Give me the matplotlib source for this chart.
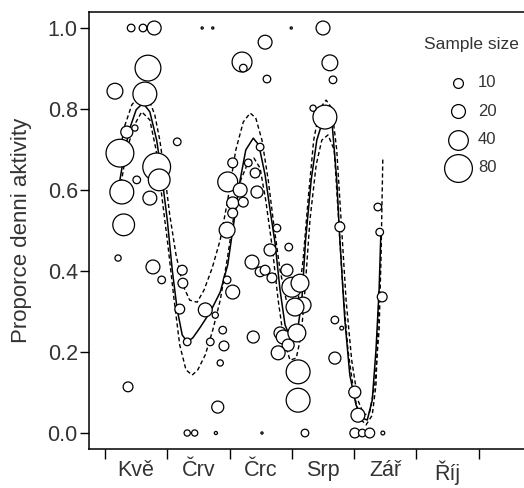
import matplotlib
matplotlib.use('Agg')
import matplotlib.pyplot as plt
from matplotlib.ticker import FixedLocator

plt.rcParams['font.family'] = ['Liberation Sans', 'DejaVu Sans']

# mesice: 5 = zacatek kvetna
mesice = ['Kvě', 'Črv', 'Črc', 'Srp', 'Zář', 'Říj']
hranice = [5, 6, 7, 8, 9, 10, 11]
stredy = [5.5, 6.5, 7.5, 8.5, 9.5, 10.5]

# pozorovani: cas (mesic), proporce denni aktivity, velikost vzorku
cas = [5.42, 5.61, 5.79, 5.69, 5.16, 5.64, 5.35, 5.48, 6.16, 5.24,
       5.83, 5.87, 5.51, 5.27, 5.72, 5.30, 5.21, 5.77, 5.91, 6.24,
       6.25, 6.20, 6.32, 5.37, 6.32, 6.44, 6.78, 7.52, 8.21, 6.81,
       6.85, 6.91, 6.69, 6.89, 6.77, 6.61, 7.05, 6.96, 7.38, 7.36,
       7.49, 7.57, 7.20, 7.22, 7.60, 7.49, 7.05, 7.30, 7.41, 6.97,
       7.17, 7.44, 7.05, 7.22, 7.05, 6.96, 7.76, 7.65, 7.95, 7.57,
       7.68, 7.92, 8.00, 8.13, 8.18, 8.05, 7.81, 7.86, 8.08, 7.94,
       7.78, 8.10, 8.10, 8.69, 8.69, 8.80, 9.01, 9.06, 9.01, 9.13,
       9.25, 9.46, 9.45, 9.41, 8.50, 8.61, 8.66, 8.53, 8.34, 9.38,
       8.77, 6.56, 6.73, 7.99]
proporce = [1.0, 1.0, 1.0, 0.901, 0.844, 0.837, 0.743, 0.753, 0.719, 0.691,
            0.657, 0.625, 0.625, 0.595, 0.580, 0.514, 0.432, 0.410, 0.378, 0.402,
            0.370, 0.306, 0.225, 0.114, 0.0, 0.0, 0.0, 0.0, 0.0, 0.064,
            0.173, 0.215, 0.225, 0.254, 0.291, 0.304, 0.348, 0.378, 0.237, 0.422,
            0.398, 0.965, 0.916, 0.901, 0.874, 0.706, 0.667, 0.667, 0.642, 0.620,
            0.600, 0.595, 0.568, 0.570, 0.543, 0.501, 0.506, 0.452, 0.459, 0.402,
            0.383, 0.402, 0.360, 0.370, 0.316, 0.311, 0.247, 0.237, 0.247, 0.217,
            0.198, 0.151, 0.081, 0.185, 0.279, 0.259, 0.101, 0.044, 0.0, 0.0,
            0.0, 0.0, 0.336, 0.496, 1.0, 0.914, 0.872, 0.780, 0.802, 0.558,
            0.509, 1.0, 1.0, 1.0]
vzorek = [6, 6, 20, 69, 26, 59, 15, 4, 6, 80,
          80, 49, 6, 59, 20, 49, 4, 20, 6, 10,
          10, 10, 6, 10, 4, 4, 1, 0.5, 6, 15,
          4, 10, 6, 6, 4, 20, 20, 6, 15, 20,
          10, 20, 41, 6, 6, 6, 10, 6, 10, 41,
          20, 15, 15, 10, 10, 26, 6, 15, 6, 10,
          10, 15, 41, 33, 26, 33, 15, 20, 33, 15,
          20, 59, 59, 15, 6, 1.5, 15, 20, 10, 6,
          10, 1.5, 10, 6, 20, 26, 6, 59, 4, 6,
          10, 0.5, 0.5, 0.5]

# vyrovnany model a konfidencni pas
fit_x = [5.24, 5.32, 5.40, 5.50, 5.61, 5.72, 5.83, 5.91, 6.00, 6.08,
         6.16, 6.24, 6.32, 6.41, 6.52, 6.69, 6.85, 6.97, 7.05, 7.17,
         7.26, 7.38, 7.47, 7.57, 7.65, 7.73, 7.81, 7.89, 7.99, 8.08,
         8.16, 8.22, 8.31, 8.40, 8.49, 8.58, 8.65, 8.72, 8.77, 8.85,
         8.93, 9.03, 9.13, 9.21, 9.29, 9.35, 9.40, 9.43]
fit_y = [0.625, 0.699, 0.753, 0.798, 0.815, 0.793, 0.723, 0.637, 0.526, 0.402,
         0.304, 0.242, 0.225, 0.235, 0.259, 0.299, 0.348, 0.415, 0.501, 0.625,
         0.699, 0.728, 0.711, 0.637, 0.551, 0.469, 0.353, 0.267, 0.230, 0.242,
         0.328, 0.477, 0.625, 0.723, 0.768, 0.773, 0.756, 0.625, 0.477, 0.279,
         0.143, 0.069, 0.037, 0.032, 0.081, 0.205, 0.353, 0.501]

hi_x = [5.21, 5.32, 5.43, 5.56, 5.69, 5.80, 5.88, 5.96, 6.04, 6.14,
        6.25, 6.36, 6.48, 6.59, 6.72, 6.85, 6.97, 7.10, 7.22, 7.33,
        7.42, 7.52, 7.62, 7.71, 7.81, 7.91, 8.00, 8.10, 8.18, 8.26,
        8.35, 8.45, 8.55, 8.64, 8.72, 8.79, 8.87, 8.96, 9.06, 9.16,
        9.25, 9.33, 9.40, 9.43, 9.46]
hi_y = [0.674, 0.760, 0.810, 0.835, 0.830, 0.785, 0.723, 0.637, 0.538, 0.440,
        0.365, 0.328, 0.323, 0.353, 0.407, 0.477, 0.575, 0.699, 0.768, 0.790,
        0.778, 0.723, 0.625, 0.514, 0.402, 0.328, 0.304, 0.328, 0.427, 0.575,
        0.723, 0.802, 0.822, 0.802, 0.699, 0.526, 0.328, 0.180, 0.081, 0.044,
        0.052, 0.119, 0.254, 0.427, 0.681]

lo_x = [5.24, 5.35, 5.47, 5.59, 5.72, 5.82, 5.91, 6.01, 6.11, 6.20,
        6.30, 6.40, 6.49, 6.61, 6.73, 6.85, 6.96, 7.07, 7.18, 7.30,
        7.39, 7.49, 7.58, 7.68, 7.78, 7.87, 7.97, 8.07, 8.15, 8.21,
        8.29, 8.39, 8.48, 8.58, 8.68, 8.74, 8.82, 8.90, 9.00, 9.09,
        9.19, 9.29, 9.35, 9.38, 9.40]
lo_y = [0.600, 0.699, 0.760, 0.793, 0.773, 0.699, 0.588, 0.464, 0.328, 0.217,
        0.156, 0.143, 0.156, 0.193, 0.254, 0.328, 0.427, 0.538, 0.625, 0.669,
        0.679, 0.654, 0.575, 0.464, 0.328, 0.230, 0.180, 0.185, 0.242, 0.353,
        0.526, 0.662, 0.723, 0.736, 0.699, 0.551, 0.353, 0.205, 0.094, 0.037,
        0.020, 0.044, 0.119, 0.254, 0.353]

legenda_n = [10, 20, 40, 80]

fig = plt.figure(figsize=(5.24, 4.88), dpi=100)
ax = fig.add_axes([0.1698, 0.0799, 0.8302, 0.8955])

ax.plot(fit_x, fit_y, color='black', lw=1.1, zorder=2)
ax.plot(hi_x, hi_y, color='black', lw=1.0, ls=(0, (3, 2)), zorder=2)
ax.plot(lo_x, lo_y, color='black', lw=1.0, ls=(0, (3, 2)), zorder=2)

ax.scatter(cas, proporce, s=[5 * n for n in vzorek], facecolors='white',
           edgecolors='black', linewidths=0.9, zorder=3)

ax.set_xlim(4.743, 11.726)
ax.set_ylim(-0.0395, 1.0395)

ax.xaxis.set_major_locator(FixedLocator(hranice))
ax.xaxis.set_minor_locator(FixedLocator(stredy))
ax.set_xticklabels([])
ax.set_xticklabels(mesice, minor=True)
ax.tick_params(axis='x', which='major', length=7, width=1, direction='out')
ax.tick_params(axis='x', which='minor', length=0, pad=8,
               labelsize=15.5, labelcolor='#333333')

ax.set_yticks([0.0, 0.2, 0.4, 0.6, 0.8, 1.0])
ax.set_yticklabels(['0.0', '0.2', '0.4', '0.6', '0.8', '1.0'])
ax.tick_params(axis='y', length=6.5, width=1, labelsize=15.5,
               labelcolor='#333333', pad=1.5)
ax.set_ylabel('Proporce denni aktivity', fontsize=16, color='#333333',
              labelpad=11)

ax.spines['right'].set_visible(False)
for s in ['left', 'bottom', 'top']:
    ax.spines[s].set_linewidth(1.1)

ax.text(0.880, 0.9245, 'Sample size', transform=ax.transAxes, ha='center',
        va='center', fontsize=12.5, color='#333333')
handles = [ax.scatter([], [], s=5 * n, facecolors='white',
                      edgecolors='black', linewidths=0.9) for n in legenda_n]
leg = ax.legend(handles, [str(n) for n in legenda_n], loc='upper center',
                bbox_to_anchor=(0.877, 0.855), frameon=False,
                fontsize=12, labelspacing=0.8, handlelength=1.6,
                handletextpad=0.4, borderpad=0, borderaxespad=0)
for t in leg.get_texts():
    t.set_color('#333333')

fig.savefig('out.png', dpi=100)
